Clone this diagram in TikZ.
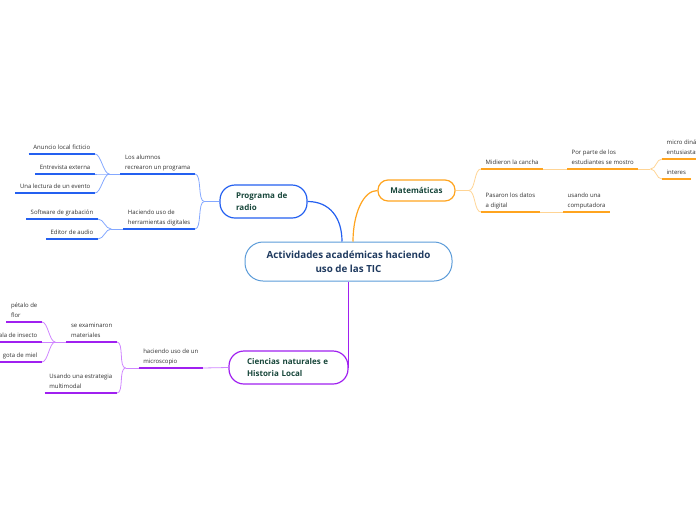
\documentclass[tikz,border=0pt]{standalone}
\usepackage{fontspec}
\setmainfont{Open Sans}
\usepackage{xcolor}
\definecolor{mapNavy}{HTML}{1F3A5F}
\definecolor{mapGreen}{HTML}{17463A}
\definecolor{mapText}{HTML}{303030}
\definecolor{mapCore}{HTML}{5B9BD8}
\definecolor{radBlue}{HTML}{2460F0}
\definecolor{radLight}{HTML}{84A8FF}
\definecolor{matOrange}{HTML}{FFA41F}
\definecolor{matLight}{HTML}{FFD494}
\definecolor{cieViolet}{HTML}{A020F0}
\definecolor{cieLight}{HTML}{CF86FF}
\usepackage{tikz}

\begin{document}
\begin{tikzpicture}[x=1pt, y=-1pt,
  topic/.style={draw, rounded corners=15pt, line width=1.2pt, align=left,
    font=\bfseries\fontsize{8}{12}\selectfont, text=mapGreen},
  leaf/.style={inner xsep=4.5pt, inner ysep=3pt, text depth=1.6pt, align=left,
    font=\fontsize{6}{9.5}\selectfont, text=mapText},
  uline/.style={line width=1.8pt},
  twig/.style={line width=0.8pt}]
  \useasboundingbox (0,0) rectangle (696,520);

  % ---- centre and main topics ----
  \node[draw=mapCore, line width=1pt, rounded corners=18pt, minimum width=207pt,
    minimum height=39pt, align=center, text=mapNavy,
    font=\bfseries\fontsize{9.8}{14}\selectfont] (core) at (348.5,261.5)
    {Actividades académicas haciendo\\uso de las TIC};
  \node[topic, draw=radBlue, minimum width=87pt, minimum height=33pt, text width=55pt]
    (radio) at (263.5,201.5) {Programa de\\radio};
  \node[topic, draw=matOrange, rounded corners=10pt, minimum width=77pt, minimum height=21pt]
    (mate) at (416.5,190.5) {Matemáticas};
  \node[topic, draw=cieViolet, minimum width=119pt, minimum height=33pt, text width=83pt]
    (cien) at (288.5,367.5) {Ciencias naturales e\\Historia Local};
  \draw[radBlue, line width=1.2pt] (radio.east) .. controls +(22,0) and +(0,-24) .. ([xshift=-6.5pt]core.north);
  \draw[matOrange, line width=1.2pt] ([xshift=4.5pt]core.north) .. controls +(0,-28) and +(-14,0) .. (mate.west);
  \draw[cieViolet, line width=1.2pt] (core.south -| cien.east) -- (cien.east);

  % ---- (a) programa de radio ----
  \coordinate (jr) at ([xshift=-15pt]radio.west);
  \node[leaf, anchor=south east] (alum) at (195,174) {Los alumnos\\recrearon un programa};
  \node[leaf, anchor=south east] (herr) at (195,229) {Haciendo uso de\\herramientas digitales};
  \draw[radLight, twig] (radio.west) -- (jr);
  \foreach \nm in {alum,herr} {
    \draw[radBlue, uline] (\nm.south west) -- (\nm.south east);
    \draw[radLight, twig] (jr) .. controls +(-7,0) and +(7,0) .. (\nm.south east);
  }
  \coordinate (ja) at ([xshift=-11pt]alum.south west);
  \draw[radLight, twig] (alum.south west) -- (ja);
  \foreach \nm/\yy/\txt in {anun/154/Anuncio local ficticio, entr/174/Entrevista externa,
      lect/193/Una lectura de un evento} {
    \node[leaf, anchor=south east] (\nm) at (95,\yy) {\txt};
    \draw[radBlue, uline] (\nm.south west) -- (\nm.south east);
    \draw[radLight, twig] (ja) .. controls +(-6,0) and +(6,0) .. (\nm.south east);
  }
  \coordinate (jh) at ([xshift=-12pt]herr.south west);
  \draw[radLight, twig] (herr.south west) -- (jh);
  \foreach \nm/\yy/\txt in {soft/219/Software de grabación, edit/239/Editor de audio} {
    \node[leaf, anchor=south east] (\nm) at (98,\yy) {\txt};
    \draw[radBlue, uline] (\nm.south west) -- (\nm.south east);
    \draw[radLight, twig] (jh) .. controls +(-6,0) and +(6,0) .. (\nm.south east);
  }

  % ---- (b) matematicas ----
  \coordinate (jm) at ([xshift=13pt]mate.east);
  \node[leaf, anchor=south west] (midi) at (481,169) {Midieron la cancha};
  \node[leaf, anchor=south west] (pasa) at (481,212) {Pasaron los datos\\a digital};
  \node[leaf, anchor=south west] (porp) at (567,169) {Por parte de los\\estudiantes se mostro};
  \node[leaf, anchor=south west] (usan) at (563,212) {usando una\\computadora};
  \draw[matLight, twig] (mate.east) -- (jm);
  \foreach \nm in {midi,pasa} {
    \draw[matLight, twig] (jm) .. controls +(7,0) and +(-7,0) .. (\nm.south west);
  }
  \draw[matLight, twig] (midi.south east) -- (porp.south west);
  \draw[matLight, twig] (pasa.south east) -- (usan.south west);
  \coordinate (jp) at ([xshift=12pt]porp.south east);
  \draw[matLight, twig] (porp.south east) -- (jp);
  \foreach \nm/\yy/\txt in {micr/159/{micro diná\\entusiastas}, intr/179/interes} {
    \node[leaf, anchor=south west] (\nm) at (662,\yy) {\txt};
    \draw[matLight, twig] (jp) .. controls +(6,0) and +(-6,0) .. (\nm.south west);
  }
  \foreach \nm in {midi,pasa,porp,usan,micr,intr} {
    \draw[matOrange, uline] (\nm.south west) -- (\nm.south east);
  }

  % ---- (c) ciencias naturales ----
  \node[leaf, anchor=south east] (micro) at (203,368) {haciendo uso de un\\microscopio};
  \draw[cieLight, twig] (cien.west) -- (micro.south east);
  \coordinate (jc) at ([xshift=-13pt]micro.south west);
  \draw[cieLight, twig] (micro.south west) -- (jc);
  \node[leaf, anchor=south east] (exam) at (117,342) {se examinaron\\materiales};
  \node[leaf, anchor=south east] (estr) at (117,393) {Usando una estrategia\\multimodal};
  \foreach \nm in {exam,estr} {
    \draw[cieLight, twig] (jc) .. controls +(-7,0) and +(7,0) .. (\nm.south east);
  }
  \coordinate (je) at ([xshift=-11pt]exam.south west);
  \draw[cieLight, twig] (exam.south west) -- (je);
  \foreach \nm/\yy/\txt in {peta/322/{pétalo de\\flor}, alain/342/ala de insecto, gota/362/gota de miel} {
    \node[leaf, anchor=south east] (\nm) at (42,\yy) {\txt};
    \draw[cieLight, twig] (je) .. controls +(-6,0) and +(6,0) .. (\nm.south east);
  }
  \foreach \nm in {micro,exam,estr,peta,alain,gota} {
    \draw[cieViolet, uline] (\nm.south west) -- (\nm.south east);
  }
\end{tikzpicture}
\end{document}
